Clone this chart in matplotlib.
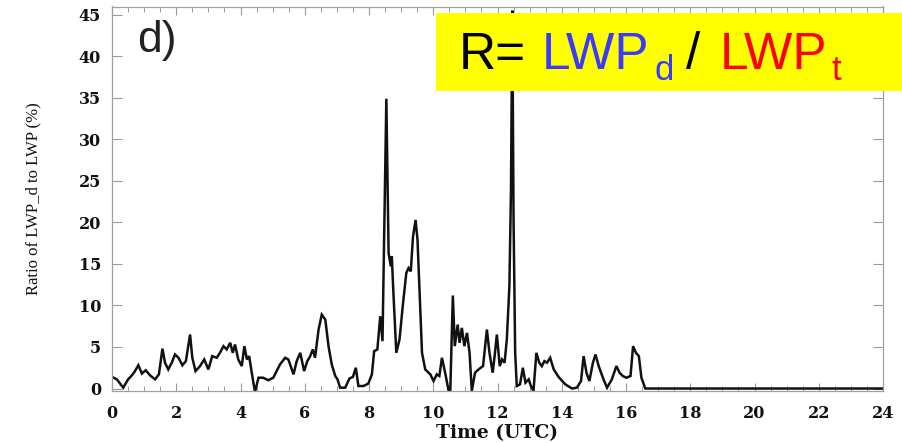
import matplotlib
matplotlib.use("Agg")
import matplotlib.pyplot as plt
from matplotlib.ticker import MultipleLocator

# ---- data ----
time_utc = [0.0, 0.15, 0.35, 0.5, 0.6, 0.7, 0.82, 0.93, 1.05, 1.18, 1.34, 1.46, 1.57, 1.65, 1.75,
             1.86, 1.96, 2.07, 2.19, 2.3, 2.43, 2.5, 2.6, 2.74, 2.87, 3.0, 3.12, 3.26, 3.36, 3.47,
             3.57, 3.68, 3.76, 3.83, 3.93, 4.04, 4.12, 4.2, 4.27, 4.35, 4.45, 4.56, 4.7, 4.87, 5.02,
             5.23, 5.39, 5.49, 5.65, 5.75, 5.86, 5.98, 6.08, 6.17, 6.25, 6.32, 6.43, 6.53, 6.64,
             6.74, 6.84, 6.95, 7.02, 7.1, 7.26, 7.39, 7.5, 7.59, 7.67, 7.83, 7.98, 8.09, 8.16,
             8.26, 8.35, 8.42, 8.54, 8.61, 8.68, 8.71, 8.76, 8.85, 8.95, 9.05, 9.16, 9.23, 9.3,
             9.37, 9.45, 9.51, 9.6, 9.65, 9.75, 9.91, 10.01, 10.11, 10.19, 10.27, 10.37, 10.48,
             10.53, 10.61, 10.67, 10.76, 10.82, 10.89, 10.97, 11.05, 11.13, 11.2, 11.3, 11.41,
             11.55, 11.67, 11.75, 11.85, 11.91, 11.98, 12.07, 12.14, 12.22, 12.29, 12.37, 12.42,
             12.46, 12.5, 12.55, 12.6, 12.7, 12.79, 12.87, 12.97, 13.04, 13.12, 13.21, 13.3,
             13.38, 13.46, 13.54, 13.64, 13.75, 13.9, 14.11, 14.32, 14.47, 14.6, 14.68, 14.77,
             14.86, 14.97, 15.05, 15.15, 15.3, 15.41, 15.56, 15.7, 15.8, 15.9, 16.01, 16.14,
             16.22, 16.31, 16.4, 16.48, 16.6, 18.0, 20.0, 22.0, 24.0]
ratio_pct = [1.4, 1.1, 0.1, 1.1, 1.5, 2.0, 2.8, 1.8, 2.2, 1.6, 1.1, 1.7, 4.8, 3.1, 2.3,
             3.1, 4.1, 3.7, 2.8, 3.3, 6.5, 3.7, 2.1, 2.7, 3.5, 2.3, 3.9, 3.7, 4.3, 5.1,
             4.7, 5.5, 4.3, 5.3, 3.5, 2.7, 5.1, 3.5, 3.9, 1.9, -0.4, 1.3, 1.3, 1.0, 1.3,
             2.9, 3.7, 3.5, 1.7, 3.3, 4.3, 2.1, 3.3, 3.9, 4.7, 3.7, 7.1, 8.9, 8.3,
             5.1, 2.9, 1.5, 1.1, 0.1, 0.1, 1.2, 1.4, 2.5, 0.3, 0.3, 0.6, 1.7, 4.5,
             4.7, 8.7, 5.7, 34.9, 16.3, 14.7, 15.9, 11.5, 4.3, 5.9, 9.9, 13.9, 14.5, 14.1,
             18.3, 20.3, 17.9, 9.1, 4.3, 2.3, 1.7, 0.9, 1.7, 1.5, 3.7, 1.9, -0.3,
             -0.3, 11.2, 5.1, 7.7, 5.5, 7.3, 5.1, 6.7, 4.3, -0.3, 1.9, 2.3,
             2.7, 7.1, 4.3, 1.9, 3.9, 6.5, 2.7, 3.5, 3.1, 5.9, 12.3, 24.0,
             45.5, 20.3, 4.3, 0.3, 0.5, 2.5, 0.7, 1.1, 0.3, -0.3, 4.3, 3.1,
             2.7, 3.3, 3.1, 3.7, 2.3, 1.4, 0.5, 0.0, 0.1, 0.9, 3.9, 1.9,
             0.9, 3.1, 4.1, 2.7, 1.1, 0.1, 1.1, 2.7, 1.9, 1.5, 1.3, 1.5,
             5.1, 4.3, 3.9, 1.3, 0.0, 0.0, 0.0, 0.0, 0.0]

x_ticks = [0, 2, 4, 6, 8, 10, 12, 14, 16, 18, 20, 22, 24]
y_ticks = [0, 5, 10, 15, 20, 25, 30, 35, 40, 45]

W, H = 902, 443
fig = plt.figure(figsize=(W / 100, H / 100), dpi=100)
fig.patch.set_facecolor("white")

left, right, top, bottom = 112, 883, 6.5, 391
ax = fig.add_axes([left / W, 1 - bottom / H, (right - left) / W, (bottom - top) / H])

ax.plot(time_utc, ratio_pct, color="#111111", lw=1.8, solid_joinstyle="miter")
ax.set_xlim(0, 24)
ax.set_ylim(-0.3, 46)

ax.set_xticks(x_ticks)
ax.set_yticks(y_ticks)
ax.xaxis.set_minor_locator(MultipleLocator(0.5))
ax.tick_params(axis="both", which="both", direction="in", top=True, right=True,
               color="#9a9a9a")
ax.tick_params(axis="x", which="major", length=6, width=0.8, pad=10)
ax.tick_params(axis="x", which="minor", length=3.5, width=0.7)
ax.tick_params(axis="y", which="major", length=7, width=0.8, pad=8)
for lab in ax.get_xticklabels() + ax.get_yticklabels():
    lab.set_fontfamily("DejaVu Serif")
    lab.set_fontweight("bold")
    lab.set_fontsize(11.5)
    lab.set_color("#111111")
for sp in ax.spines.values():
    sp.set_color("#a0a0a0")
    sp.set_linewidth(0.9)

ax.set_xlabel("Time (UTC)", family="DejaVu Serif", fontweight="bold", fontsize=13.5,
              color="#111111")
ax.xaxis.set_label_coords(0.5, -0.085)
ax.set_ylabel("Ratio of LWP_d to LWP (%)", family="Liberation Serif", fontsize=12,
              color="#111111")
ax.yaxis.set_label_coords(-0.092, 0.5)

# panel label
fig.text(137 / W, 1 - 52 / H, "d)", family="Liberation Sans", fontsize=32,
         color="#222222", ha="left", va="baseline")

# yellow formula box
box = plt.Rectangle((436 / W, 1 - 91 / H), (W - 436) / W, 78 / H,
                    transform=fig.transFigure, facecolor="#ffff00", edgecolor="none",
                    zorder=5)
fig.add_artist(box)

blue = "#3a3aff"
red = "#ff0000"
pieces = [
    (459, 69, "R=", "black", 37),
    (542, 69, "LWP", blue, 37),
    (655, 80, "d", blue, 25),
    (686, 69, "/", "black", 37),
    (720, 69, "LWP", red, 37),
    (832, 80, "t", red, 25),
]
for px, py, s, c, fs in pieces:
    fig.text(px / W, 1 - py / H, s, family="Liberation Sans", fontsize=fs, color=c,
             ha="left", va="baseline", zorder=6)

fig.savefig("out.png", dpi=100, facecolor=fig.get_facecolor())
